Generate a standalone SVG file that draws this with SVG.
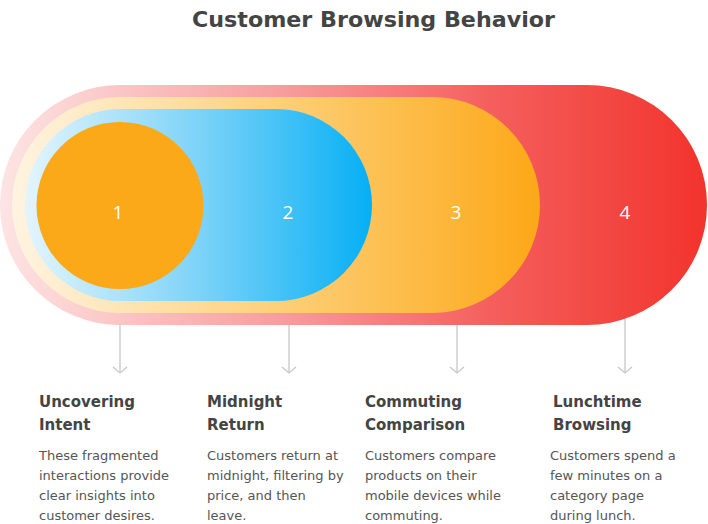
<svg xmlns="http://www.w3.org/2000/svg" width="708" height="524" viewBox="0 0 708 524">
<style>
.title{font-family:"DejaVu Sans","Open Sans",sans-serif;font-weight:700;font-size:21px;fill:#444}
.num{font-family:"Open Sans","Liberation Sans",sans-serif;font-size:19px;fill:#fff;text-anchor:middle}
.head{font-family:"DejaVu Sans","Open Sans",sans-serif;font-weight:700;font-size:15px;fill:#444}
.body{font-family:"DejaVu Sans","Open Sans",sans-serif;font-size:13px;fill:#555}
.conn{stroke:#c8c8c8;stroke-width:1.3;fill:none}
</style>
<defs>
<linearGradient id="gRed" x1="0" y1="0" x2="1" y2="0">
<stop offset="0" stop-color="#fde4e4"/>
<stop offset="0.4" stop-color="#f89c9c"/>
<stop offset="0.7" stop-color="#f45e5c"/>
<stop offset="1" stop-color="#f2332c"/>
</linearGradient>
<linearGradient id="gYel" x1="0" y1="0" x2="1" y2="0">
<stop offset="0" stop-color="#fff4e2"/>
<stop offset="0.5" stop-color="#fdd07a"/>
<stop offset="1" stop-color="#fca817"/>
</linearGradient>
<linearGradient id="gBlue" x1="0" y1="0" x2="1" y2="0">
<stop offset="0" stop-color="#e3f5fd"/>
<stop offset="0.5" stop-color="#7dd3f8"/>
<stop offset="1" stop-color="#06aff5"/>
</linearGradient>
<marker id="arr" viewBox="0 0 8 16" refX="7" refY="8" markerWidth="8" markerHeight="16" markerUnits="userSpaceOnUse" orient="auto">
<path d="M1,1 L7,8 L1,15" stroke="#c8c8c8" stroke-width="1.3" fill="none"/>
</marker>
</defs>
<text class="title" x="373.5" y="27" text-anchor="middle" textLength="363" lengthAdjust="spacingAndGlyphs">Customer Browsing Behavior</text>
<g id="connectors">
<line class="conn" x1="120" y1="288" x2="120" y2="373" marker-end="url(#arr)"/>
<line class="conn" x1="289" y1="300" x2="289" y2="373" marker-end="url(#arr)"/>
<line class="conn" x1="457" y1="312" x2="457" y2="373" marker-end="url(#arr)"/>
<line class="conn" x1="625" y1="318" x2="625" y2="373" marker-end="url(#arr)"/>
</g>
<g id="node4">
<rect x="0" y="85" width="707" height="240" rx="120" fill="url(#gRed)"/>
<text class="num" x="625" y="219">4</text>
</g>
<g id="node3">
<rect x="12" y="97" width="528" height="216" rx="108" fill="url(#gYel)"/>
<text class="num" x="456" y="219">3</text>
</g>
<g id="node2">
<rect x="25" y="109" width="347" height="192" rx="96" fill="url(#gBlue)"/>
<text class="num" x="288" y="219">2</text>
</g>
<g id="node1">
<circle cx="120" cy="205.5" r="83.5" fill="#fba919"/>
<text class="num" x="118" y="219">1</text>
</g>
<g id="label1">
<text class="head" x="39" y="407">Uncovering</text>
<text class="head" x="39" y="430">Intent</text>
<text class="body" x="39" y="460">These fragmented</text>
<text class="body" x="39" y="480">interactions provide</text>
<text class="body" x="39" y="500">clear insights into</text>
<text class="body" x="39" y="520">customer desires.</text>
</g>
<g id="label2">
<text class="head" x="207" y="407">Midnight</text>
<text class="head" x="207" y="430">Return</text>
<text class="body" x="207" y="460">Customers return at</text>
<text class="body" x="207" y="480">midnight, filtering by</text>
<text class="body" x="207" y="500">price, and then</text>
<text class="body" x="207" y="520">leave.</text>
</g>
<g id="label3">
<text class="head" x="365" y="407">Commuting</text>
<text class="head" x="365" y="430">Comparison</text>
<text class="body" x="365" y="460">Customers compare</text>
<text class="body" x="365" y="480">products on their</text>
<text class="body" x="365" y="500">mobile devices while</text>
<text class="body" x="365" y="520">commuting.</text>
</g>
<g id="label4">
<text class="head" x="553" y="407">Lunchtime</text>
<text class="head" x="553" y="430">Browsing</text>
<text class="body" x="550" y="460">Customers spend a</text>
<text class="body" x="550" y="480">few minutes on a</text>
<text class="body" x="550" y="500">category page</text>
<text class="body" x="550" y="520">during lunch.</text>
</g>
</svg>
